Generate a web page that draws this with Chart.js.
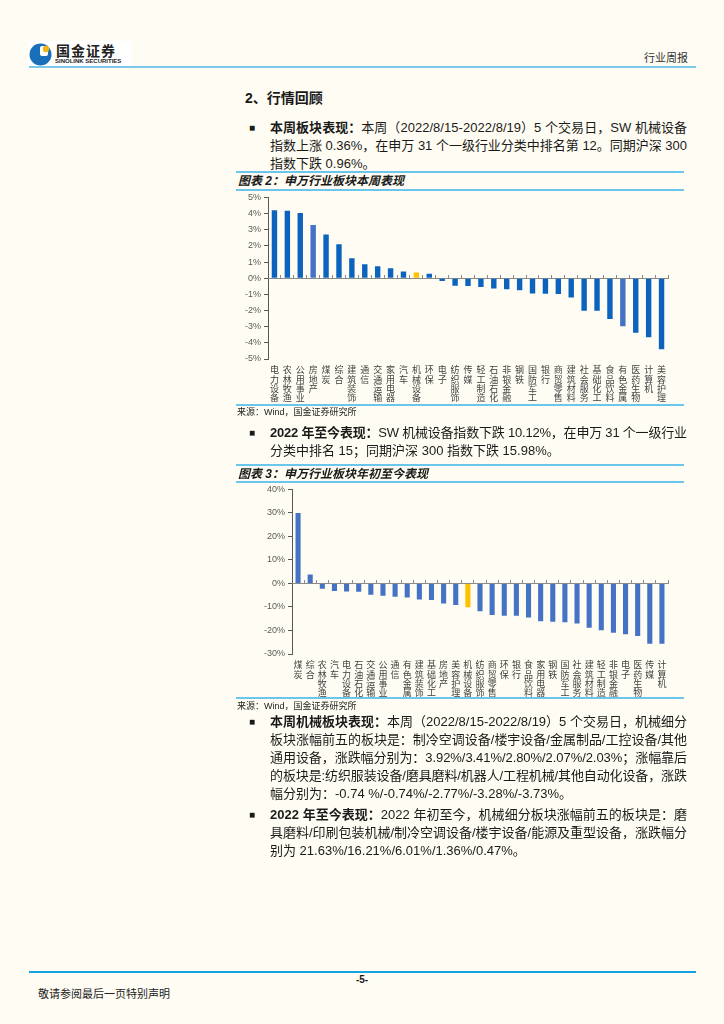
<!DOCTYPE html>
<html><head><meta charset="utf-8">
<script src="https://cdn.jsdelivr.net/npm/chart.js@4.4.0/dist/chart.umd.min.js"></script>
<style>
html,body{margin:0;padding:0;}
body{width:724px;height:1024px;background:#FFFDF3;position:relative;overflow:hidden;font-family:"Liberation Sans","Noto Sans CJK SC",sans-serif;color:#1a1a1a;}
.abs{position:absolute;}
.line{position:absolute;height:2px;}
.para{position:absolute;left:270px;width:417px;font-size:13px;line-height:18px;}
.para div{white-space:nowrap;height:18px;}
.b{font-weight:700;}
.bullet{position:absolute;left:249px;font-size:10px;line-height:18px;}
.ctitle{position:absolute;left:238px;font-size:12px;font-weight:700;font-style:italic;line-height:16px;}
.src{position:absolute;left:237px;font-size:9px;line-height:12px;color:#222;}
canvas{position:absolute;}
</style></head>
<body>
<!-- header -->
<div class="abs" style="left:28px;top:41px;width:104px;height:26px;background:#fff;"></div>
<svg class="abs" style="left:29px;top:42px" width="24" height="24" viewBox="0 0 24 24">
  <circle cx="11.5" cy="12.5" r="11" fill="#1a6fba"/>
  <rect x="11" y="4" width="8" height="10" rx="2" fill="#fff"/>
  <circle cx="17" cy="7" r="3.2" fill="#f3b516"/>
</svg>
<div class="abs" style="left:56px;top:43px;font-size:14px;font-weight:700;line-height:17px;color:#222;letter-spacing:1px;">国金证券</div>
<div class="abs" style="left:55px;top:58px;font-size:6px;font-weight:700;line-height:7px;color:#222;">SINOLINK SECURITIES</div>
<div class="abs" style="right:36px;top:51px;font-size:11px;line-height:14px;color:#333;">行业周报</div>
<div class="line" style="left:29px;top:66px;width:667px;background:#7cc8ea;"></div>

<div class="abs" style="left:245px;top:89px;font-size:14px;font-weight:700;line-height:18px;">2、行情回顾</div>

<div class="bullet" style="top:119px;">■</div>
<div class="para" style="top:119px;">
  <div class="j"><span class="b">本周板块表现：</span>本周（2022/8/15-2022/8/19）5 个交易日，SW 机械设备</div>
  <div class="j">指数上涨 0.36%，在申万 31 个一级行业分类中排名第 12。同期沪深 300</div>
  <div>指数下跌 0.96%。</div>
</div>

<div class="line" style="left:236px;top:171px;width:448px;background:#6cc5ec;"></div>
<div class="ctitle" style="top:173px;">图表 2：申万行业板块本周表现</div>
<div class="line" style="left:236px;top:189px;width:448px;background:#6cc5ec;"></div>
<canvas id="c1" width="452" height="216" style="left:236px;top:189px;"></canvas>
<div class="line" style="left:236px;top:404px;width:448px;background:#6cc5ec;"></div>
<div class="src" style="top:406px;">来源：Wind，国金证券研究所</div>

<div class="bullet" style="top:424px;">■</div>
<div class="para" style="top:424px;">
  <div class="j"><span class="b">2022 年至今表现：</span>SW 机械设备指数下跌 10.12%，在申万 31 个一级行业</div>
  <div>分类中排名 15；同期沪深 300 指数下跌 15.98%。</div>
</div>

<div class="line" style="left:236px;top:464px;width:448px;background:#6cc5ec;"></div>
<div class="ctitle" style="top:466px;">图表 3：申万行业板块年初至今表现</div>
<div class="line" style="left:236px;top:481px;width:448px;background:#6cc5ec;"></div>
<canvas id="c2" width="452" height="217" style="left:236px;top:481px;"></canvas>
<div class="line" style="left:236px;top:697px;width:448px;background:#6cc5ec;"></div>
<div class="src" style="top:700px;">来源：Wind，国金证券研究所</div>

<div class="bullet" style="top:713px;">■</div>
<div class="para" style="top:713px;">
  <div class="j"><span class="b">本周机械板块表现：</span>本周（2022/8/15-2022/8/19）5 个交易日，机械细分</div>
  <div class="j">板块涨幅前五的板块是：制冷空调设备/楼宇设备/金属制品/工控设备/其他</div>
  <div class="j">通用设备，涨跌幅分别为：3.92%/3.41%/2.80%/2.07%/2.03%；涨幅靠后</div>
  <div class="j">的板块是:纺织服装设备/磨具磨料/机器人/工程机械/其他自动化设备，涨跌</div>
  <div>幅分别为：-0.74 %/-0.74%/-2.77%/-3.28%/-3.73%。</div>
</div>

<div class="bullet" style="top:806px;">■</div>
<div class="para" style="top:806px;">
  <div class="j"><span class="b">2022 年至今表现：</span>2022 年初至今，机械细分板块涨幅前五的板块是：磨</div>
  <div class="j">具磨料/印刷包装机械/制冷空调设备/楼宇设备/能源及重型设备，涨跌幅分</div>
  <div>别为 21.63%/16.21%/6.01%/1.36%/0.47%。</div>
</div>

<!-- footer -->
<div class="line" style="left:29px;top:971px;width:667px;background:#16a3e3;"></div>
<div class="abs" style="left:352px;top:974px;width:20px;text-align:center;font-size:10px;font-weight:700;line-height:12px;">-5-</div>
<div class="abs" style="left:38px;top:987px;font-size:11px;line-height:14px;color:#222;">敬请参阅最后一页特别声明</div>

<script>
// fit text lines to the column width
(function(){
  const W = 417;
  document.querySelectorAll('.para div').forEach(el => {
    el.style.display = 'inline-block';
    const w = el.getBoundingClientRect().width;
    const n = Array.from(el.textContent.trim()).length;
    const just = el.classList.contains('j');
    if (just || w > W) {
      const ls = (W - w) / Math.max(n - 1, 1);
      el.style.letterSpacing = ls.toFixed(3) + 'px';
    }
    el.style.display = 'block';
  });
})();

// ---- Chart 1: 本周表现 ----
const categories1 = ['电力设备','农林牧渔','公用事业','房地产','煤炭','综合','建筑装饰','通信','交通运输','家用电器','汽车','机械设备','环保','电子','纺织服饰','传媒','轻工制造','石油石化','非银金融','钢铁','国防军工','银行','商贸零售','建筑材料','社会服务','基础化工','食品饮料','有色金属','医药生物','计算机','美容护理'];
const values1 = [4.21,4.17,4.04,3.29,2.71,2.10,1.23,0.86,0.74,0.61,0.41,0.36,0.27,-0.17,-0.46,-0.48,-0.55,-0.63,-0.68,-0.74,-0.95,-0.96,-0.98,-1.20,-2.01,-2.02,-2.53,-2.97,-3.37,-3.66,-4.40];
const yTickLabels1 = ['-5%','-4%','-3%','-2%','-1%','0%','1%','2%','3%','4%','5%'];

// ---- Chart 2: 年初至今表现 ----
const categories2 = ['煤炭','综合','农林牧渔','汽车','电力设备','石油石化','交通运输','公用事业','通信','有色金属','建筑装饰','基础化工','房地产','美容护理','机械设备','纺织服饰','商贸零售','环保','银行','食品饮料','家用电器','钢铁','国防军工','社会服务','建筑材料','轻工制造','非银金融','电子','医药生物','传媒','计算机'];
const values2 = [30.0,3.8,-2.2,-3.2,-3.4,-3.5,-4.8,-5.2,-5.6,-6.0,-6.8,-7.0,-8.5,-9.2,-10.12,-11.8,-13.4,-13.7,-13.7,-14.5,-16.1,-16.3,-16.5,-17.0,-18.8,-19.9,-21.0,-21.6,-22.3,-25.6,-25.6];
const yTickLabels2 = ['-30%','-20%','-10%','0%','10%','20%','30%','40%'];

const highlight = '机械设备';
const lighter1 = ['房地产','有色金属'];

function makeChart(id, cats, vals, tickLabels, opt) {
  const stacked = cats.map(s => Array.from(s));
  return new Chart(document.getElementById(id), {
    type: 'bar',
    data: {
      labels: cats,
      datasets: [{
        data: vals,
        xAxisID: 'x', yAxisID: 'y',
        backgroundColor: ctx => {
          const n = cats[ctx.dataIndex];
          if (n === highlight) return '#FFC000';
          return opt.colorFn(n);
        },
        barPercentage: opt.barPct,
        categoryPercentage: 1
      }]
    },
    options: {
      responsive: false,
      animation: false,
      events: [],
      layout: { padding: { top: 0, right: 20, left: 0, bottom: 0 } },
      plugins: { legend: { display: false }, tooltip: { enabled: false } },
      scales: {
        y: {
          min: opt.min, max: opt.max,
          ticks: {
            stepSize: opt.step,
            callback: (v) => tickLabels[Math.round((v - opt.min) / opt.step)],
            font: { size: 9, family: 'Liberation Sans' },
            color: '#595959', padding: 3
          },
          grid: { drawOnChartArea: false, drawTicks: true, tickLength: 4, color: '#595959' },
          border: { color: '#595959' },
          afterFit: s => { s.width = opt.yWidth; }
        },
        x: {
          position: { y: 0 },
          ticks: { display: false },
          grid: { drawOnChartArea: false, tickLength: -4, offset: true, color: '#8a8a8a' },
          border: { color: '#8a8a8a' },
          afterFit: s => { s.height = 0; }
        },
        x2: {
          type: 'category',
          labels: stacked,
          position: 'bottom',
          offset: true,
          grid: { display: false, drawTicks: false },
          border: { display: false },
          ticks: {
            autoSkip: false, maxRotation: 0, minRotation: 0, padding: 6,
            font: { size: 9, family: 'Noto Sans CJK SC', lineHeight: 1.05 },
            color: '#404040'
          },
          afterFit: s => { s.height = opt.xHeight; }
        }
      }
    }
  });
}

makeChart('c1', categories1, values1, yTickLabels1, {
  min: -5, max: 5, step: 1, yWidth: 32, xHeight: 46, barPct: 0.42,
  colorFn: n => lighter1.includes(n) ? '#4472C4' : '#0B63BE'
});
makeChart('c2', categories2, values2, yTickLabels2, {
  min: -30, max: 40, step: 10, yWidth: 56, xHeight: 44, barPct: 0.42,
  colorFn: n => '#4472C4'
});
</script>
</body></html>
